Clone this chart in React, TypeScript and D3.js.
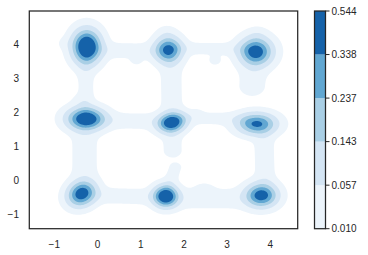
import React, { useMemo } from 'react';
import * as d3 from 'd3';

const WIDTH = 368;
const HEIGHT = 255;

// plot box (px) and axis domains
const PLOT = { left: 29.3, right: 297.7, top: 11, bottom: 228.7 };
const xDomain = [-1.579, 4.634];
const yDomain = [-1.403, 5.0];

// the nine density peaks (data units)
const clusterX = [-0.25, 1.64, 3.67, -0.27, 1.72, 3.69, -0.37, 1.58, 3.8];
const clusterY = [3.95, 3.86, 3.81, 1.83, 1.72, 1.68, -0.38, -0.45, -0.42];
const clusterPeak = [0.544, 0.39, 0.42, 0.48, 0.48, 0.37, 0.43, 0.52, 0.42];
const clusterSx = [0.2, 0.19, 0.23, 0.26, 0.2, 0.27, 0.19, 0.17, 0.22];
const clusterSy = [0.3, 0.23, 0.25, 0.2, 0.17, 0.19, 0.23, 0.19, 0.21];
const clusterTilt = [0, 0, 0, 0, 25, 0, -25, 0, 0]; // degrees

// faint ridges between the peaks: [x1, y1, x2, y2]
const ridgeEnds = [
  [-0.05, 3.85, 1.4, 3.82],
  [1.85, 3.9, 3.45, 3.88],
  [-0.28, 3.6, -0.26, 2.1],
  [1.7, 3.55, 1.72, 2.0],
  [3.62, 3.55, 3.58, 2.8],
  [0.0, 1.78, 1.45, 1.75],
  [2.0, 1.86, 3.4, 1.82],
  [-0.3, 1.55, -0.3, -0.1],
  [1.73, 1.45, 1.74, 0.9],
  [1.8, 0.4, 1.65, -0.15],
  [3.85, 1.4, 3.88, 0.0],
  [-0.05, -0.42, 1.3, -0.47],
  [1.85, -0.52, 3.5, -0.52],
];
const ridgeLevel = [0.028, 0.026, 0.026, 0.03, 0.03, 0.03, 0.026, 0.03, 0.03, 0.026, 0.03, 0.03, 0.03];
const ridgeWidth = [0.15, 0.12, 0.12, 0.16, 0.2, 0.15, 0.12, 0.19, 0.14, 0.1, 0.15, 0.15, 0.19];

// small isolated bumps in the lowest band
const bumpX = [2.72, 2.47, 1.6, 3.7, -0.38, 0.9, -0.75, 2.3];
const bumpY = [3.55, -0.3, 4.35, 4.3, 2.35, 3.55, 4.05, 1.98];
const bumpLevel = [0.022, 0.025, 0.02, 0.02, 0.02, 0.018, 0.014, 0.016];
const bumpSize = [0.1, 0.15, 0.14, 0.14, 0.14, 0.1, 0.12, 0.1];

const levels = [0.01, 0.057, 0.143, 0.237, 0.338, 0.544];
const levelLabels = ['0.010', '0.057', '0.143', '0.237', '0.338', '0.544'];
const bandColors = ['#ecf4fb', '#d4e5f4', '#a9cfe5', '#61a7d2', '#1562a9'];

const xTicks = [-1, 0, 1, 2, 3, 4];
const yTicks = [-1, 0, 1, 2, 3, 4];

const INK = '#262626';
const FONT = '"Liberation Sans", Arial, sans-serif';

function density(x: number, y: number) {
  let v = 0;
  for (let k = 0; k < clusterX.length; k++) {
    const dx = x - clusterX[k];
    const dy = y - clusterY[k];
    const a = (clusterTilt[k] * Math.PI) / 180;
    const u = dx * Math.cos(a) + dy * Math.sin(a);
    const w = -dx * Math.sin(a) + dy * Math.cos(a);
    v += clusterPeak[k] * Math.exp(-(u * u) / (2 * clusterSx[k] ** 2) - (w * w) / (2 * clusterSy[k] ** 2));
  }
  for (let k = 0; k < ridgeEnds.length; k++) {
    const [x1, y1, x2, y2] = ridgeEnds[k];
    const ex = x2 - x1;
    const ey = y2 - y1;
    let t = ((x - x1) * ex + (y - y1) * ey) / (ex * ex + ey * ey);
    t = Math.max(0, Math.min(1, t));
    const px = x - (x1 + t * ex);
    const py = y - (y1 + t * ey);
    v += ridgeLevel[k] * Math.exp(-(px * px + py * py) / (2 * ridgeWidth[k] ** 2));
  }
  for (let k = 0; k < bumpX.length; k++) {
    const dx = x - bumpX[k];
    const dy = y - bumpY[k];
    v += bumpLevel[k] * Math.exp(-(dx * dx + dy * dy) / (2 * bumpSize[k] ** 2));
  }
  return v;
}

export default function App() {
  const x = d3.scaleLinear().domain(xDomain).range([PLOT.left, PLOT.right]);
  const y = d3.scaleLinear().domain(yDomain).range([PLOT.bottom, PLOT.top]);

  const nx = Math.ceil(PLOT.right - PLOT.left);
  const ny = Math.ceil(PLOT.bottom - PLOT.top);

  const bands = useMemo(() => {
    const values = new Float64Array(nx * ny);
    for (let j = 0; j < ny; j++) {
      const dy = y.invert(PLOT.top + j + 0.5);
      for (let i = 0; i < nx; i++) {
        values[j * nx + i] = density(x.invert(PLOT.left + i + 0.5), dy);
      }
    }
    return d3.contours().size([nx, ny]).thresholds(levels.slice(0, 5))(Array.from(values));
  }, []);

  const path = d3.geoPath();

  // colorbar: boundaries evenly spaced
  const cb = { left: 314.5, right: 325.5 };
  const cbY = d3.scaleLinear().domain([0, levels.length - 1]).range([PLOT.bottom, PLOT.top]);

  return (
    <svg
      width={WIDTH}
      height={HEIGHT}
      style={{ position: 'absolute', left: 0, top: 0, background: '#fff' }}
      fontFamily={FONT}
      fontSize={10}
    >
      <g transform={`translate(${PLOT.left},${PLOT.top})`}>
        {bands.map((c, i) => (
          <path key={i} d={path(c as any) || ''} fill={bandColors[i]} stroke="none" />
        ))}
      </g>
      <rect
        x={PLOT.left}
        y={PLOT.top}
        width={PLOT.right - PLOT.left}
        height={PLOT.bottom - PLOT.top}
        fill="none"
        stroke={INK}
        strokeWidth={1.25}
      />
      {xTicks.map((t) => (
        <text key={`x${t}`} x={x(t)} y={247.5} textAnchor="middle" fill={INK}>
          {t < 0 ? `\u2212${Math.abs(t)}` : t}
        </text>
      ))}
      {yTicks.map((t) => (
        <text key={`y${t}`} x={19} y={y(t)} dy="0.35em" textAnchor="end" fill={INK}>
          {t < 0 ? `\u2212${Math.abs(t)}` : t}
        </text>
      ))}

      {/* colorbar */}
      {bandColors.map((c, i) => (
        <rect
          key={`cb${i}`}
          x={cb.left}
          y={cbY(i + 1)}
          width={cb.right - cb.left}
          height={cbY(i) - cbY(i + 1)}
          fill={c}
        />
      ))}
      <rect
        x={cb.left}
        y={PLOT.top}
        width={cb.right - cb.left}
        height={PLOT.bottom - PLOT.top}
        fill="none"
        stroke={INK}
        strokeWidth={1.25}
      />
      {levelLabels.map((l, i) => (
        <g key={`cl${i}`} transform={`translate(${cb.right},${cbY(i)})`}>
          <line x1={0} x2={4} stroke={INK} strokeWidth={1} />
          <text x={6} dy="0.35em" fill={INK}>
            {l}
          </text>
        </g>
      ))}
    </svg>
  );
}
